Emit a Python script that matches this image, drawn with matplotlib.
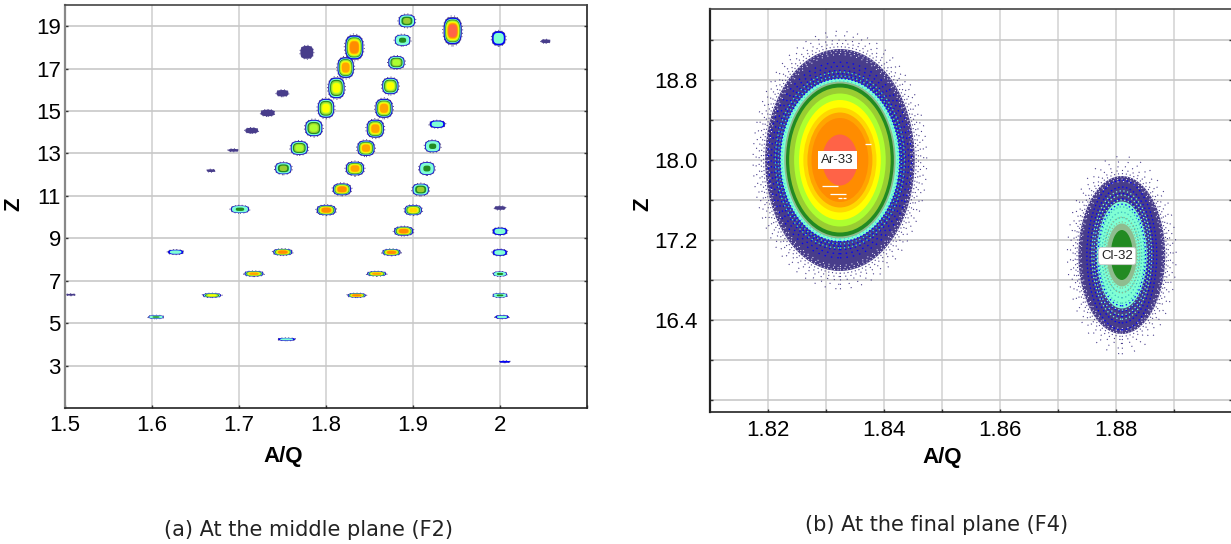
import numpy as np
import matplotlib
matplotlib.use('Agg')
import matplotlib.pyplot as plt
from matplotlib.patches import Ellipse, Polygon

plt.rcParams['font.family'] = ['Liberation Sans', 'DejaVu Sans']

# Colour levels, low to high counts
level_colors = ['#483D8B', '#0000FF', '#7FFFD4', '#228B22', '#9ACD32', '#ADFF2F',
                '#FFFF00', '#FFD700', '#FFA500', '#FF8C00', '#FF6347']

# Panel (a): one entry per isotope spot
spot_aq = [1.893, 1.9456, 1.9985, 2.0525, 1.888, 1.8325, 1.778, 1.881, 1.8226, 1.874,
           1.812, 1.75, 1.8667, 1.80, 1.733, 1.8567, 1.786, 1.928, 1.7146, 1.846,
           1.7693, 1.9226, 1.6934, 1.751, 1.8333, 1.916, 1.6678, 1.8184, 1.9088, 1.7011,
           1.8003, 1.9003, 2.0, 1.8893, 2.0, 1.6272, 1.7503, 1.8753, 1.9998, 1.7172,
           1.8582, 2.0, 1.669, 1.8353, 2.0, 1.5067, 1.6046, 2.0023, 1.7547, 2.0055]
spot_z = [19.25, 18.78, 18.43, 18.29, 18.34, 18.0, 17.77, 17.29, 17.05, 16.18,
          16.09, 15.84, 15.13, 15.13, 14.91, 14.17, 14.2, 14.38, 14.08, 13.25,
          13.26, 13.34, 13.15, 12.3, 12.29, 12.29, 12.19, 11.31, 11.3, 10.37,
          10.33, 10.33, 10.43, 9.34, 9.33, 8.35, 8.35, 8.34, 8.33, 7.33,
          7.33, 7.32, 6.31, 6.31, 6.31, 6.34, 5.29, 5.29, 4.24, 3.18]
spot_w = [.0207, .023, .0172, .0115, .0195, .023, .0161, .0207, .0207, .0207,
          .0207, .0149, .0218, .0207, .0172, .0218, .0218, .0195, .0161, .0218,
          .0218, .0195, .0126, .0207, .023, .0195, .0103, .023, .0207, .023,
          .0241, .0218, .0138, .0241, .0184, .0195, .0241, .023, .0184, .0241,
          .0241, .0172, .023, .023, .0184, .0115, .0195, .0172, .0218, .0138]
spot_h = [.66, 1.42, .75, .19, .57, 1.27, .66, .66, 1.08, .85,
          1.08, .33, .99, .99, .33, .94, .85, .38, .28, .8,
          .71, .61, .14, .61, .71, .66, .14, .61, .61, .38,
          .52, .52, .19, .47, .38, .24, .33, .33, .33, .27,
          .24, .24, .21, .21, .21, .09, .17, .17, .14, .09]
spot_peak = [4, 10, 2, 0, 3, 9, 0, 5, 8, 6,
             6, 0, 8, 6, 0, 8, 5, 2, 0, 8,
             5, 3, 0, 4, 8, 3, 0, 9, 4, 3,
             9, 7, 0, 9, 2, 2, 9, 9, 2, 8,
             8, 3, 6, 9, 3, 0, 3, 2, 2, 1]

a_xticks = [1.5, 1.6, 1.7, 1.8, 1.9, 2.0]
a_xlabels = ['1.5', '1.6', '1.7', '1.8', '1.9', '2']
a_yticks = [3, 5, 7, 9, 11, 13, 15, 17, 19]

# Panel (b): contour widths and heights of the two big blobs
ar_center = (1.8324, 18.0)
ar_colors = ['#483D8B', '#7FFFD4', '#8FBC8F', '#228B22', '#9ACD32', '#ADFF2F',
             '#FFFF00', '#FFD700', '#FFA500', '#FF8C00', '#FF6347']
ar_w = [.0258, .0206, .0192, .0186, .0175, .0158, .0141, .0126, .0112, .0098, .0061]
ar_h = [2.22, 1.63, 1.57, 1.53, 1.45, 1.33, 1.20, 1.05, .95, .84, .51]

cl_center = (1.8810, 17.05)
cl_colors = ['#483D8B', '#7FFFD4', '#8FBC8F', '#228B22']
cl_w = [.0150, .0086, .0052, .0038]
cl_h = [1.58, 1.07, .63, .50]

# white gaps inside the Ar-33 blob
gap_z = [18.16, 17.74, 17.66, 17.62, 17.62]
gap_start = [1.8367, 1.8293, 1.8307, 1.8320, 1.8329]
gap_end = [1.8378, 1.8320, 1.8334, 1.8327, 1.8335]

b_xticks = [1.82, 1.84, 1.86, 1.88]
b_xminor = [1.83, 1.85, 1.87, 1.89]
b_yticks = [16.4, 17.2, 18.0, 18.8]
b_yminor = [15.6, 16.0, 16.8, 17.6, 18.4, 19.2]

W, H = 1231, 544
fig = plt.figure(figsize=(W / 100, H / 100), dpi=100)


def px_axes(left, right, top, bottom):
    return fig.add_axes([left / W, 1 - bottom / H, (right - left) / W, (bottom - top) / H])


def rounded_spot(ax, x, z, w, h, color, zorder):
    # rounded box shape, the spots are squarer than an ellipse
    t = np.linspace(0, 2 * np.pi, 60)
    c, s = np.cos(t), np.sin(t)
    px = x + w / 2 * np.sign(c) * np.abs(c) ** 0.7
    py = z + h / 2 * np.sign(s) * np.abs(s) ** 0.7
    ax.add_patch(Polygon(np.column_stack([px, py]), closed=True, fc=color, ec='none', zorder=zorder))


def dotted_ring(ax, center, w, h, color, lw=0.8, dash=(1, 2), zorder=3):
    ax.add_patch(Ellipse(center, w, h, fc='none', ec=color, lw=lw,
                         ls=(0, dash), zorder=zorder))


def style_axes(ax, spine_color):
    ax.set_axisbelow(True)
    for side in ax.spines:
        ax.spines[side].set_color('#222222')
        ax.spines[side].set_linewidth(1.2)
    ax.spines['left'].set_color(spine_color)
    ax.spines['left'].set_linewidth(1.6)
    ax.spines['top'].set_color('#444444')
    ax.tick_params(which='both', direction='in', length=2, width=1, color='#333333',
                   right=True, labelsize=16)


# ---- panel (a)
ax1 = px_axes(65, 587, 5, 408)
ax1.set_xlim(1.5, 2.1)
ax1.set_ylim(1, 20)
ax1.set_xticks(a_xticks, a_xlabels)
ax1.set_xticks([2.1], minor=True)
ax1.set_yticks(a_yticks)
style_axes(ax1, '#888888')
ax1.tick_params(axis='x', which='both', pad=5)
ax1.tick_params(axis='y', which='both', pad=3)
ax1.xaxis.grid(True, color='#d6d6d6', lw=1.3)
ax1.yaxis.grid(True, color='#c8c8c8', lw=1.2)
ax1.set_xlabel('A/Q', fontsize=16, fontweight='bold')
ax1.set_ylabel('Z', fontsize=16, fontweight='bold')
ax1.xaxis.set_label_coords((283 - 65) / 522, -0.095)
ax1.yaxis.set_label_coords(-0.077, (408 - 204) / 403)

for x, z, w, h, peak in zip(spot_aq, spot_z, spot_w, spot_h, spot_peak):
    dotted_ring(ax1, (x, z), w, h, level_colors[0], lw=0.7, dash=(1, 2.5))
    rounded_spot(ax1, x, z, w * 0.92, h * 0.92, level_colors[0], 3)
    if peak >= 1:
        rounded_spot(ax1, x, z, w * 0.86, h * 0.86, level_colors[1], 3.1)
    if peak == 2:
        rounded_spot(ax1, x, z, w * 0.68, h * 0.68, level_colors[2], 3.2)
    elif peak > 2:
        scales = np.linspace(0.8, 0.42, peak - 1)
        for level, scale in zip(range(2, peak + 1), scales):
            rounded_spot(ax1, x, z, w * scale, h * scale, level_colors[level], 3 + level / 10)

# ---- panel (b)
ax2 = px_axes(710, 1232, 9, 412)
ax2.set_xlim(1.81, 1.90)
ax2.set_ylim(15.48, 19.51)
ax2.set_xticks(b_xticks)
ax2.set_xticks(b_xminor, minor=True)
ax2.set_yticks(b_yticks, ['16.4', '17.2', '18.0', '18.8'])
ax2.set_yticks(b_yminor, minor=True)
style_axes(ax2, '#222222')
ax2.tick_params(axis='x', which='both', pad=6)
ax2.tick_params(axis='y', which='both', pad=9)
ax2.xaxis.grid(True, which='both', color='#dcdcdc', lw=1.4)
ax2.yaxis.grid(True, which='both', color='#c8c8c8', lw=1.2)
ax2.set_xlabel('A/Q', fontsize=16, fontweight='bold')
ax2.set_ylabel('Z', fontsize=16, fontweight='bold')
ax2.xaxis.set_label_coords((942 - 710) / 522, -0.087)
ax2.yaxis.set_label_coords(-0.109, (412 - 204) / 403)

purple = ar_colors[0]

# Ar-33
for color, w, h, i in zip(ar_colors, ar_w, ar_h, range(len(ar_w))):
    ax2.add_patch(Ellipse(ar_center, w, h, fc=color, ec='none', zorder=3 + i / 20))
for scale in [1.02, 1.05, 1.08, 1.12, 1.16]:
    dotted_ring(ax2, ar_center, ar_w[0] * scale, ar_h[0] * scale, purple, lw=0.8, dash=(1, 1.5 + (scale - 1) * 45))
# break up the hard outer edge
for scale in [0.99, 0.97, 0.95]:
    dotted_ring(ax2, ar_center, ar_w[0] * scale, ar_h[0] * scale, 'white', lw=0.7, dash=(1, 2 + (1 - scale) * 60), zorder=3.02)
for scale in [1.0, 1.03, 1.06, 1.10, 1.15, 1.2]:
    dotted_ring(ax2, ar_center, ar_w[1] * scale, ar_h[1] * scale, '#0000FF', lw=0.9, dash=(1.2, 1.6 + (scale - 1) * 12), zorder=3.6)
for scale in [0.97, 1.03, 1.08]:
    dotted_ring(ax2, ar_center, ar_w[1] * scale, ar_h[1] * scale, '#40E0D0', lw=0.9, dash=(1, 2.2), zorder=3.6)
ax2.hlines(gap_z, gap_start, gap_end, color='white', lw=0.9, zorder=4)

# Cl-32
for color, w, h, i in zip(cl_colors, cl_w, cl_h, range(len(cl_w))):
    ax2.add_patch(Ellipse(cl_center, w, h, fc=color, ec='none', zorder=3 + i / 20))
for scale in [1.03, 1.07, 1.12, 1.18, 1.25]:
    dotted_ring(ax2, cl_center, cl_w[0] * scale, cl_h[0] * scale, purple, lw=0.8, dash=(1, 1.5 + (scale - 1) * 35))
for scale in [0.99, 0.96, 0.93]:
    dotted_ring(ax2, cl_center, cl_w[0] * scale, cl_h[0] * scale, 'white', lw=0.7, dash=(1, 2 + (1 - scale) * 40), zorder=3.02)
for scale in [0.95, 1.05, 1.15, 1.27, 1.4]:
    dotted_ring(ax2, cl_center, cl_w[1] * scale, cl_h[1] * scale, '#0000FF', lw=0.9, dash=(1.2, 2.0), zorder=3.3)
for scale in [1.03, 1.12, 1.2]:
    dotted_ring(ax2, cl_center, cl_w[1] * scale, cl_h[1] * scale, '#7FFFD4', lw=0.9, dash=(1, 2), zorder=3.3)
for scale in [0.7, 0.8, 0.9]:
    dotted_ring(ax2, cl_center, cl_w[1] * scale, cl_h[1] * scale, '#3CB8C0', lw=0.9, dash=(1, 1.8), zorder=3.3)
for scale in [1.05, 1.2]:
    dotted_ring(ax2, cl_center, cl_w[2] * scale, cl_h[2] * scale, '#8FBC8F', lw=0.9, dash=(1, 1.5), zorder=3.3)

ax2.text(1.8320, 18.0, 'Ar-33', fontsize=9.5, ha='center', va='center', zorder=6, color='#222222',
         bbox=dict(fc='white', ec='none', pad=2.5))
ax2.text(1.8802, 17.04, 'Cl-32', fontsize=9.5, ha='center', va='center', zorder=6, color='#222222',
         bbox=dict(boxstyle='round,pad=0.2', fc='white', ec='#cccccc', lw=0.6))

# captions
fig.text(308 / W, 1 - 530 / H, '(a) At the middle plane (F2)', fontsize=15, ha='center', va='center',
         family='DejaVu Sans', color='#222222')
fig.text(937 / W, 1 - 525 / H, '(b) At the final plane (F4)', fontsize=15, ha='center', va='center',
         family='DejaVu Sans', color='#222222')

fig.savefig('out.png', dpi=100)
